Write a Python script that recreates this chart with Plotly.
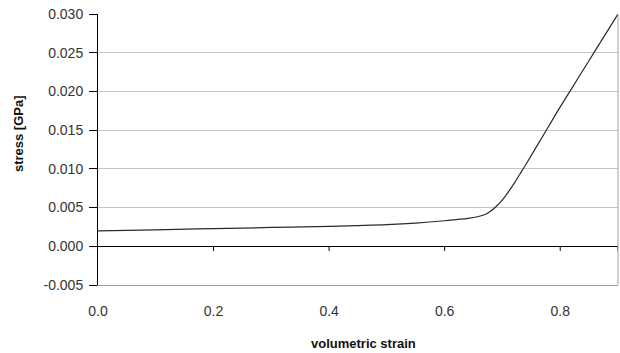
import plotly.graph_objects as go

strain = [0.0, 0.1, 0.2, 0.3, 0.4, 0.5, 0.55, 0.6, 0.62, 0.64, 0.66, 0.67, 0.68,
          0.69, 0.70, 0.71, 0.72, 0.73, 0.74, 0.76, 0.78, 0.80, 0.82, 0.84, 0.86,
          0.88, 0.90]
stress = [0.0020, 0.00213, 0.00228, 0.00243, 0.00258, 0.00280, 0.00300, 0.00330,
          0.00345, 0.00360, 0.00388, 0.00410, 0.00455, 0.00520, 0.00600, 0.00700,
          0.00810, 0.00930, 0.01050, 0.01300, 0.01550, 0.01800, 0.02040, 0.02280,
          0.02520, 0.02760, 0.03000]

x_ticks = [0.0, 0.2, 0.4, 0.6, 0.8]
x_tick_text = ["0.0", "0.2", "0.4", "0.6", "0.8"]
y_ticks = [-0.005, 0.0, 0.005, 0.010, 0.015, 0.020, 0.025, 0.030]
y_tick_text = ["-0.005", "0.000", "0.005", "0.010", "0.015", "0.020", "0.025", "0.030"]

x_title = "volumetric strain"
y_title = "stress [GPa]"

fig = go.Figure()
fig.add_trace(go.Scatter(x=strain, y=stress, mode="lines",
                         line=dict(color="#2a2a2a", width=1.2, shape="spline", smoothing=1),
                         hoverinfo="skip", showlegend=False))

# x-axis tick marks sitting on the zero line (Excel style)
for t in x_ticks[1:] + [0.9]:
    fig.add_shape(type="line", xref="x", yref="y", x0=t, x1=t, y0=0, y1=-0.0006,
                  line=dict(color="black", width=1))

# right border in grey
fig.add_shape(type="line", xref="paper", yref="paper", x0=1, x1=1, y0=0, y1=1,
              line=dict(color="#a0a0a0", width=1))

fig.add_annotation(text="<b>" + x_title + "</b>", xref="paper", yref="paper",
                   x=0.51, y=0, xanchor="center", yanchor="middle", yshift=-58,
                   showarrow=False, font=dict(size=13, color="#111111"))
fig.add_annotation(text="<b>" + y_title + "</b>", xref="paper", yref="paper",
                   x=0, y=0.557, xanchor="center", yanchor="middle", xshift=-80,
                   textangle=-90, showarrow=False, font=dict(size=13, color="#111111"))

fig.update_layout(
    width=620, height=353,
    margin=dict(l=98, r=2, t=14, b=68, autoexpand=False),
    paper_bgcolor="white", plot_bgcolor="white",
    font=dict(family="Liberation Sans, Arial, sans-serif", size=14, color="#333333"),
    xaxis=dict(range=[0, 0.9], tickvals=x_ticks, ticktext=x_tick_text,
               showgrid=False, zeroline=False, ticks="", ticklabelstandoff=13,
               showline=True, linecolor="#a0a0a0", linewidth=1),
    yaxis=dict(range=[-0.005, 0.030], tickvals=y_ticks, ticktext=y_tick_text,
               showgrid=True, gridcolor="#c4c4c4", gridwidth=1,
               zeroline=True, zerolinecolor="black", zerolinewidth=1,
               ticks="outside", ticklen=8, tickcolor="black", ticklabelstandoff=3,
               showline=True, linecolor="black", linewidth=1),
)

fig.write_html("out.html", config={"displayModeBar": False},
               post_script="document.body.style.margin='0';")
